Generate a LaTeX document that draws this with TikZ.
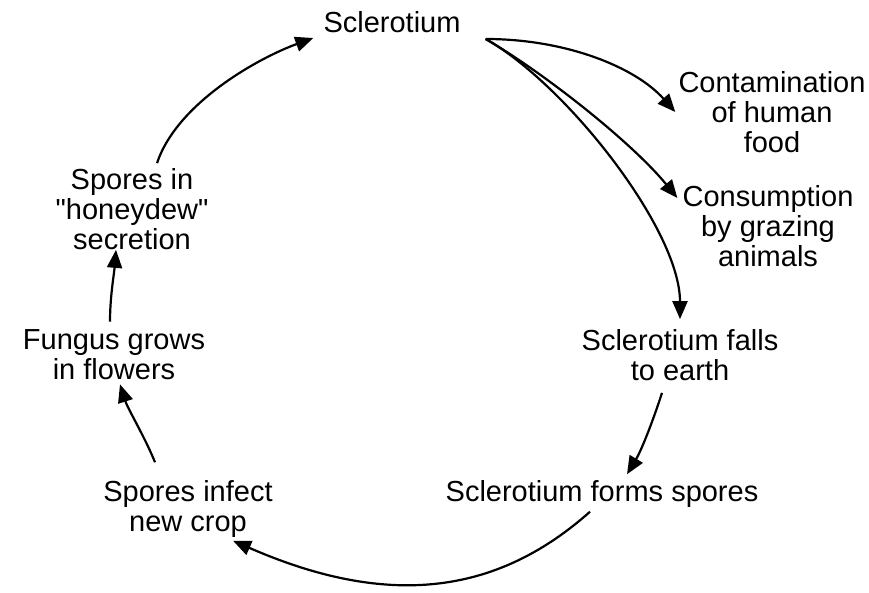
\documentclass[tikz,border=0pt]{standalone}
\usepackage{fontspec}
\setmainfont{Liberation Sans}[Ligatures=TeXOff]
\usetikzlibrary{arrows.meta,calc}
\begin{document}
\begin{tikzpicture}[x=1pt,y=-1pt,
  lbl/.style={align=center,inner sep=0pt,font=\fontsize{29}{30}\selectfont},
  arr/.style={line width=2.2pt,-{Triangle[length=18pt,width=15pt]}}]
\useasboundingbox (0,0) rectangle (869,593);
\node[lbl] (scl) at (392,22) {Sclerotium};
\node[lbl] (con) at (772,112) {Contamination\\of human\\food};
\node[lbl] (cns) at (768,226) {Consumption\\by grazing\\animals};
\node[lbl] (fal) at (680,355) {Sclerotium falls\\to earth};
\node[lbl] (frm) at (602,494) {Sclerotium forms spores};
\node[lbl] (inf) at (188,509) {Spores infect\\new crop};
\node[lbl] (fun) at (114,355) {Fungus grows\\in flowers};
\node[lbl] (hd) at (132,209) {Spores in\\"honeydew"\\secretion};

\draw[arr] ($(hd.north)+(25,-5)$) .. controls +(20,-60) and +(-55,20) .. ($(scl.west)+(-10,16)$);
\draw[arr] ($(scl.east)+(25,17)$) .. controls +(80,0) and +(-40,-45) .. ($(con.west)+(-3,0)$);
\draw[arr] ($(scl.east)+(25,17)$) .. controls +(60,35) and +(-45,-55) .. ($(cns.west)+(-5,-28)$);
\draw[arr] ($(scl.east)+(25,17)$) .. controls +(80,45) and +(0,-90) .. ($(fal.north)+(0,-10)$);
\draw[arr] ($(fal.south)+(-18,12)$) .. controls +(-8,25) and +(15,-25) .. ($(frm.north)+(25,-6)$);
\draw[arr] ($(frm.south)+(-12,4)$) .. controls +(-90,80) and +(160,70) .. ($(inf.south)+(45,3)$);
\draw[arr] ($(inf.north)+(-33,-18)$) .. controls +(-10,-25) and +(8,25) .. ($(fun.south)+(6,4)$);
\draw[arr] ($(fun.north)+(-4,-8)$) .. controls +(0,-25) and +(-2,25) .. ($(hd.south)+(-16,0)$);
\end{tikzpicture}
\end{document}
